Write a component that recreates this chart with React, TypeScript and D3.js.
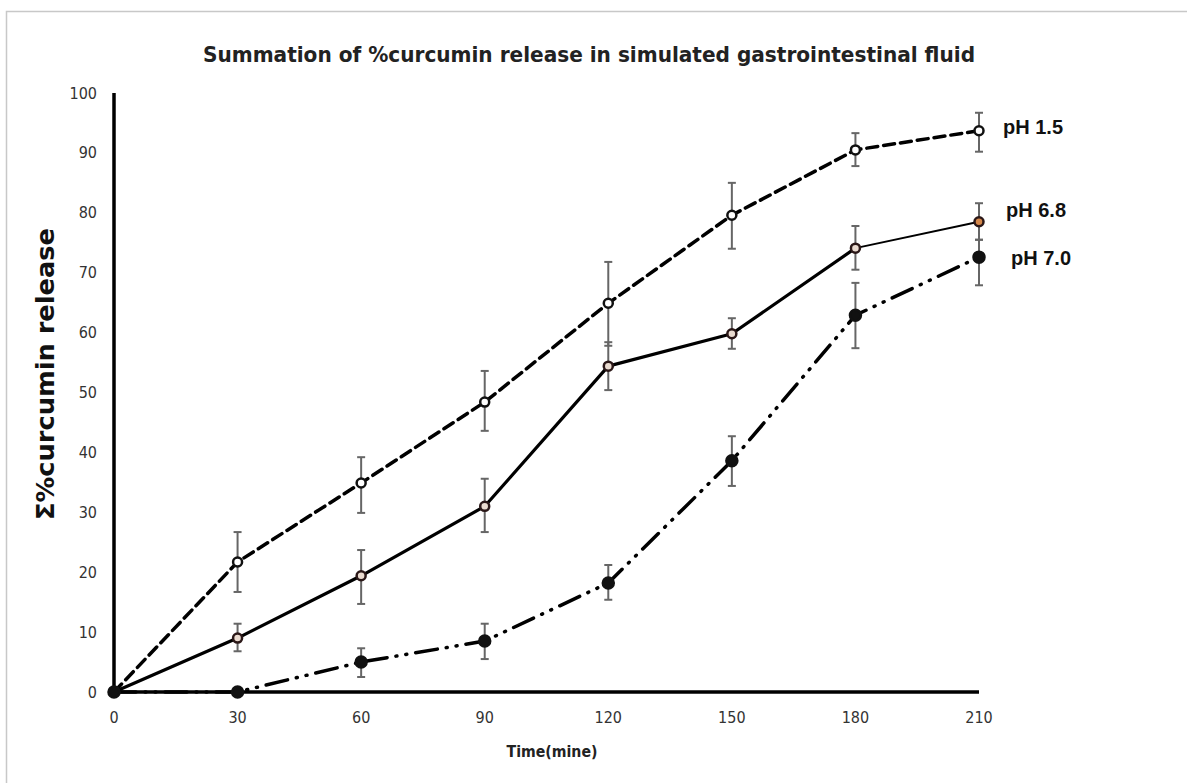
import React from 'react'
import * as d3 from 'd3'

// time points (min)
const times = [0, 30, 60, 90, 120, 150, 180, 210]
const xTicks = [0, 30, 60, 90, 120, 150, 180, 210]
const yTicks = [0, 10, 20, 30, 40, 50, 60, 70, 80, 90, 100]

// cumulative % release
const ph15 = [0, 21.7, 34.9, 48.4, 64.9, 79.6, 90.5, 93.7]
const ph15Lo = [0, 16.7, 29.9, 43.6, 57.8, 74.0, 87.8, 90.2]
const ph15Hi = [0, 26.7, 39.2, 53.6, 71.8, 85.0, 93.3, 96.7]

const ph68 = [0, 9.0, 19.4, 31.0, 54.4, 59.8, 74.1, 78.5]
const ph68Lo = [0, 6.8, 14.7, 26.7, 50.4, 57.3, 70.5, 75.5]
const ph68Hi = [0, 11.4, 23.7, 35.6, 58.4, 62.4, 77.8, 81.6]

const ph70 = [0, 0, 5.0, 8.5, 18.2, 38.6, 62.9, 72.6]
const ph70Lo = [0, 0, 2.5, 5.5, 15.4, 34.4, 57.4, 67.9]
const ph70Hi = [0, 0, 7.3, 11.4, 21.2, 42.7, 68.3, 75.5]

const seriesNames = ['pH 1.5', 'pH 6.8', 'pH 7.0']

const W = 1187
const H = 783
const margin = { left: 114, right: 208, top: 93, bottom: 91 }

const x = d3.scaleLinear().domain([0, 210]).range([margin.left, W - margin.right])
const y = d3.scaleLinear().domain([0, 100]).range([H - margin.bottom, margin.top])

const line = d3.line<number>()
  .x((d, i) => x(times[i]))
  .y(d => y(d))

const series = [
  { name: seriesNames[0], vals: ph15, lo: ph15Lo, hi: ph15Hi, dash: '11,6', width: 3.5, r: 4.5, fill: '#fff', stroke: '#111', labelDx: 24, labelDy: 3 },
  { name: seriesNames[1], vals: ph68, lo: ph68Lo, hi: ph68Hi, dash: null, width: 3.2, r: 4.5, fill: '#eadbd0', stroke: '#2b1818', labelDx: 27, labelDy: -5 },
  { name: seriesNames[2], vals: ph70, lo: ph70Lo, hi: ph70Hi, dash: '22,9,1,9,1,9', width: 3.5, r: 5.5, fill: '#111', stroke: '#111', labelDx: 32, labelDy: 8 }
]

const sans = 'DejaVu Sans Condensed'

export default function App () {
  return (
    <svg width={W} height={H} style={{ position: 'absolute', left: 0, top: 0, background: '#fff' }}>
      <rect x={6.5} y={11.5} width={W + 10} height={H + 10} fill='#fff' stroke='#c8c8c8' strokeWidth={1.5} />

      <text x={589} y={62} textAnchor='middle' fontFamily={sans} fontWeight='bold' fontSize={22}
        fill='#222' textLength={772} lengthAdjust='spacingAndGlyphs'>
        Summation of %curcumin release in simulated gastrointestinal fluid
      </text>

      {/* y tick labels */}
      {yTicks.map(t => (
        <text key={'y' + t} x={97} y={y(t) + 5.5} textAnchor='end' fontFamily={sans} fontSize={16} fill='#333'>{t}</text>
      ))}
      {/* x tick labels */}
      {xTicks.map(t => (
        <text key={'x' + t} x={x(t)} y={723} textAnchor='middle' fontFamily={sans} fontSize={16} fill='#333'>{t}</text>
      ))}

      <text transform={'translate(54,374) rotate(-90)'} textAnchor='middle' fontFamily={sans} fontWeight='bold'
        fontSize={25} fill='#111' textLength={292} lengthAdjust='spacingAndGlyphs'>Σ%curcumin release</text>
      <text x={552} y={757} textAnchor='middle' fontFamily={sans} fontWeight='bold' fontSize={15}
        fill='#222' textLength={91} lengthAdjust='spacingAndGlyphs'>Time(mine)</text>

      {/* axes */}
      <line x1={x(0)} x2={x(0)} y1={y(100)} y2={y(0)} stroke='#000' strokeWidth={3.5} />
      <line x1={x(0)} x2={x(210)} y1={y(0)} y2={y(0)} stroke='#000' strokeWidth={3.5} />

      {series.map(s => (
        <g key={s.name}>
          {s.vals.map((v, i) => s.hi[i] - s.lo[i] > 0 ? (
            <g key={i} stroke='#666' strokeWidth={2}>
              <line x1={x(times[i])} x2={x(times[i])} y1={y(s.lo[i])} y2={y(s.hi[i])} />
              <line x1={x(times[i]) - 4} x2={x(times[i]) + 4} y1={y(s.lo[i])} y2={y(s.lo[i])} />
              <line x1={x(times[i]) - 4} x2={x(times[i]) + 4} y1={y(s.hi[i])} y2={y(s.hi[i])} />
            </g>
          ) : null)}
          {s.name === 'pH 6.8' ? (
            <g>
              <path d={line(s.vals.slice(0, 7)) || ''} fill='none' stroke='#000' strokeWidth={s.width} strokeLinejoin='round' />
              <path d={'M' + x(times[6]) + ',' + y(s.vals[6]) + 'L' + x(times[7]) + ',' + y(s.vals[7])} fill='none' stroke='#000' strokeWidth={2} />
            </g>
          ) : (
            <path d={line(s.vals) || ''} fill='none' stroke='#000' strokeWidth={s.width}
              strokeDasharray={s.dash || undefined} strokeLinecap='round' />
          )}
          {s.vals.map((v, i) => (
            <circle key={'m' + i} cx={x(times[i])} cy={y(v)} r={s.r}
              fill={s.name === 'pH 6.8' && i === 7 ? '#d4874a' : s.fill} stroke={s.stroke} strokeWidth={2.5} />
          ))}
          <text x={x(210) + s.labelDx} y={y(s.vals[7]) + s.labelDy} fontFamily='Liberation Sans' fontWeight='bold'
            fontSize={20} fill='#111'>{s.name}</text>
        </g>
      ))}
    </svg>
  )
}
